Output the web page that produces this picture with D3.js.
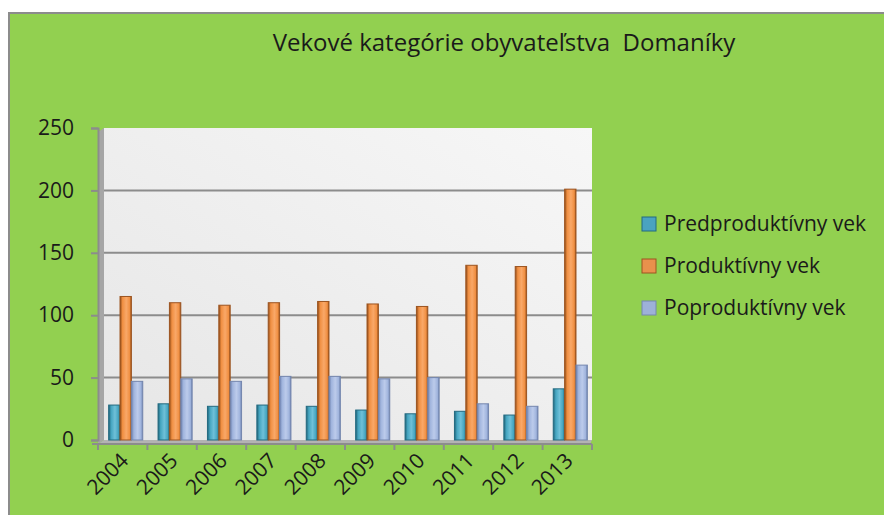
<!DOCTYPE html>
<html>
<head>
<meta charset="utf-8">
<script src="https://cdn.jsdelivr.net/npm/d3@7"></script>
<style>
    body { margin: 0; background: #ffffff; }
    text { font-family: "Open Sans", "Noto Sans", sans-serif; fill: #1a1a1a; }
</style>
</head>
<body>
<div id="wrapper"></div>
<script>
const years = ["2004", "2005", "2006", "2007", "2008", "2009", "2010", "2011", "2012", "2013"];
const seriesNames = ["Predproduktívny vek", "Produktívny vek", "Poproduktívny vek"];
const predproduktivny = [28, 29, 27, 28, 27, 24, 21, 23, 20, 41];
const produktivny = [115, 110, 108, 110, 111, 109, 107, 140, 139, 201];
const poproduktivny = [47, 49, 47, 51, 51, 49, 50, 29, 27, 60];
const yTicks = [0, 50, 100, 150, 200, 250];
const title = "Vekové kategórie obyvateľstva  Domaníky";

let dimension = {
    width: 884,
    height: 515,
    plot: { left: 98, right: 592, top: 128, bottom: 440 }
}

const colors = [
    { dark: "#1f6278", mid: "#45a5c0", light: "#6fc0d8", legend: "#4aa3c0", stroke: "#236a80" },
    { dark: "#8f4a16", mid: "#f08f42", light: "#f9a868", legend: "#e8914c", stroke: "#9c5420" },
    { dark: "#6a7eab", mid: "#a0b4dd", light: "#bccbeb", legend: "#9db1d8", stroke: "#7486ae" }
];

function buildPlot() {
    const svg = d3.select("#wrapper").append("svg")
        .attr("width", dimension.width)
        .attr("height", dimension.height);

    const defs = svg.append("defs");
    colors.forEach((c, i) => {
        const g = defs.append("linearGradient")
            .attr("id", "bar" + i)
            .attr("x1", "0").attr("x2", "1").attr("y1", "0").attr("y2", "0");
        g.append("stop").attr("offset", "0%").attr("stop-color", c.dark);
        g.append("stop").attr("offset", "22%").attr("stop-color", c.mid);
        g.append("stop").attr("offset", "55%").attr("stop-color", c.light);
        g.append("stop").attr("offset", "85%").attr("stop-color", c.mid);
        g.append("stop").attr("offset", "100%").attr("stop-color", c.dark);
    });
    const wall = defs.append("linearGradient")
        .attr("id", "wall")
        .attr("x1", "0").attr("x2", "1").attr("y1", "1").attr("y2", "0");
    wall.append("stop").attr("offset", "0%").attr("stop-color", "#e6e6e6");
    wall.append("stop").attr("offset", "100%").attr("stop-color", "#f7f7f7");

    // chart background with border
    svg.append("rect")
        .attr("x", 9).attr("y", 13)
        .attr("width", dimension.width).attr("height", dimension.height)
        .attr("fill", "#92d050")
        .attr("stroke", "#8c8c8c")
        .attr("stroke-width", 2);

    svg.append("text")
        .attr("x", 504).attr("y", 51)
        .attr("text-anchor", "middle")
        .style("font-size", "24px")
        .style("white-space", "pre")
        .text(title);

    const p = dimension.plot;
    const depth = 6;

    const xScale = d3.scaleBand()
        .domain(years)
        .range([p.left, p.right])
        .paddingInner(0.31)
        .paddingOuter(0.155);

    const x1 = d3.scaleBand()
        .domain(d3.range(seriesNames.length))
        .range([0, xScale.bandwidth()]);

    const yScale = d3.scaleLinear()
        .domain([0, 250])
        .range([p.bottom, p.top]);

    // walls
    svg.append("rect")
        .attr("x", p.left + depth).attr("y", p.top)
        .attr("width", p.right - p.left - depth).attr("height", p.bottom - p.top)
        .attr("fill", "url(#wall)");
    svg.append("path")
        .attr("d", `M${p.left},${p.top + 4}L${p.left + depth},${p.top}L${p.left + depth},${p.bottom}L${p.left},${p.bottom + 4}Z`)
        .attr("fill", "#a6a6a6");
    svg.append("path")
        .attr("d", `M${p.left},${p.bottom + 4}L${p.left + depth},${p.bottom}L${p.right},${p.bottom}L${p.right - 2},${p.bottom + 4}Z`)
        .attr("fill", "#b3b3b3");

    // gridlines
    svg.append("g")
        .selectAll("line")
        .data(yTicks.filter(d => d > 0 && d < 250))
        .join("line")
        .attr("x1", p.left + depth).attr("x2", p.right)
        .attr("y1", d => yScale(d)).attr("y2", d => yScale(d))
        .attr("stroke", "#8c8c8c")
        .attr("stroke-width", 2);

    // y axis
    const yAxis = svg.append("g")
        .attr("transform", `translate(${p.left},0)`)
        .call(d3.axisLeft(yScale).tickValues(yTicks).tickSize(7).tickPadding(17));
    yAxis.select(".domain").attr("stroke", "#8c8c8c").attr("stroke-width", 2);
    yAxis.selectAll(".tick line").attr("stroke", "#8c8c8c").attr("stroke-width", 2);
    yAxis.selectAll(".tick text")
        .style("font-size", "21px")
        .style("font-family", "'Open Sans', sans-serif")
        .attr("fill", "#1a1a1a");

    // x axis ticks at category boundaries
    const xAxis = svg.append("g");
    xAxis.append("line")
        .attr("x1", p.left - 6).attr("x2", p.right)
        .attr("y1", p.bottom + 4).attr("y2", p.bottom + 4)
        .attr("stroke", "#8c8c8c").attr("stroke-width", 2);
    xAxis.selectAll(".bt")
        .data(years.concat(["end"]))
        .join("line")
        .attr("class", "bt")
        .attr("x1", (d, i) => p.left + i * xScale.step())
        .attr("x2", (d, i) => p.left + i * xScale.step())
        .attr("y1", p.bottom + 4).attr("y2", p.bottom + 10)
        .attr("stroke", "#8c8c8c").attr("stroke-width", 2);
    xAxis.selectAll("text")
        .data(years)
        .join("text")
        .attr("text-anchor", "end")
        .style("font-size", "21px")
        .attr("transform", d => `translate(${xScale(d) + xScale.bandwidth() / 2 + 7},${p.bottom + 22}) rotate(-45)`)
        .text(d => d);

    // bars
    const values = [predproduktivny, produktivny, poproduktivny];
    const groups = svg.append("g")
        .attr("transform", "translate(3,0)")
        .selectAll("g")
        .data(years)
        .join("g")
        .attr("transform", d => `translate(${xScale(d)},0)`);

    groups.selectAll("rect")
        .data((d, i) => values.map((v, s) => ({ s: s, v: v[i] })))
        .join("rect")
        .attr("x", d => x1(d.s))
        .attr("y", d => yScale(d.v))
        .attr("width", x1.bandwidth())
        .attr("height", d => yScale(0) - yScale(d.v))
        .attr("fill", d => `url(#bar${d.s})`)
        .attr("stroke", d => colors[d.s].stroke)
        .attr("stroke-width", 1);

    // legend
    const legend = svg.append("g")
        .selectAll("g")
        .data(seriesNames)
        .join("g")
        .attr("transform", (d, i) => `translate(642,${224 + i * 42})`);
    legend.append("rect")
        .attr("x", 0).attr("y", -7)
        .attr("width", 14).attr("height", 14)
        .attr("fill", (d, i) => colors[i].legend)
        .attr("stroke", (d, i) => colors[i].stroke)
        .attr("stroke-width", 1);
    legend.append("text")
        .attr("x", 22).attr("y", 7)
        .style("font-size", "21px")
        .text(d => d);
}

buildPlot()
</script>
</body>
</html>
